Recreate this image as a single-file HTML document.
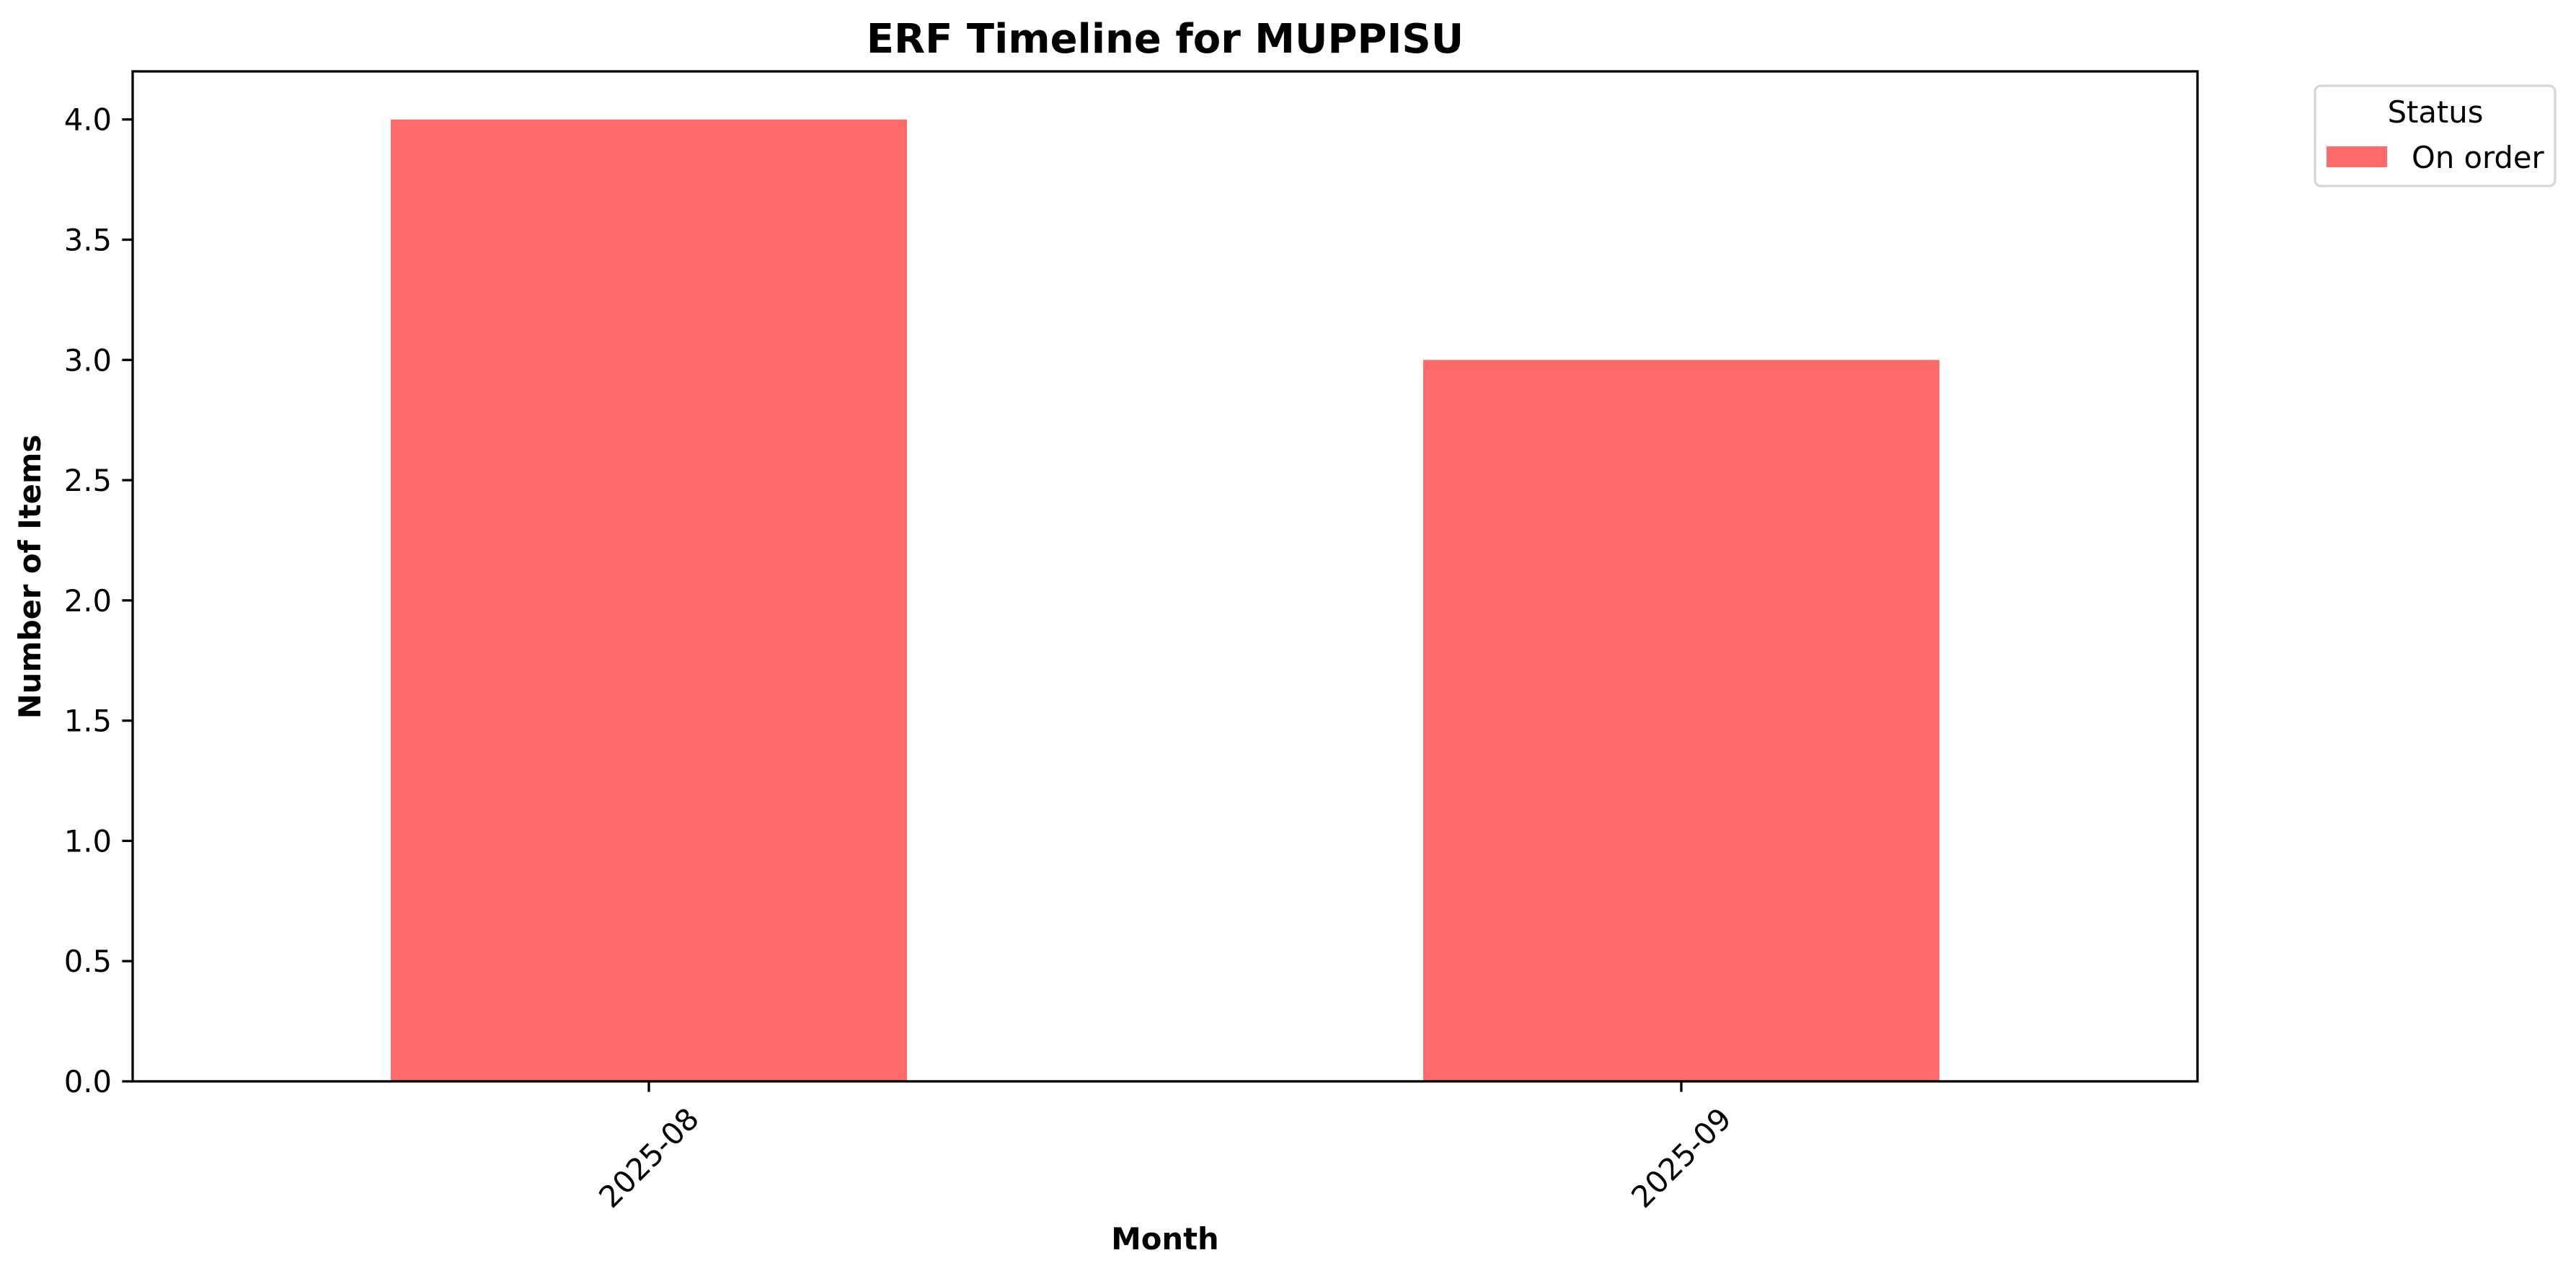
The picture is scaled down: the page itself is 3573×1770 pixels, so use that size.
<!DOCTYPE html>
<html><head><meta charset="utf-8"><style>
html,body{margin:0;padding:0;background:#fff;}
svg{display:block;font-family:"DejaVu Sans","Liberation Sans",sans-serif;}
</style></head><body>
<svg id="chart" width="3573" height="1770" viewBox="0 0 3573 1770" xmlns="http://www.w3.org/2000/svg">
<rect width="3573" height="1770" fill="#fff"/>
<text x="1616" y="73" text-anchor="middle" font-size="56" font-weight="bold">ERF Timeline for MUPPISU</text>
<g id="bars"></g>
<g id="yticks"></g>
<g id="xticks"></g>
<rect x="184" y="99" width="2864" height="1401" fill="none" stroke="#000" stroke-width="3.3"/>
<text transform="translate(56,800) rotate(-90)" text-anchor="middle" font-size="41.7" font-weight="bold">Number of Items</text>
<text x="1616" y="1733" text-anchor="middle" font-size="41.7" font-weight="bold">Month</text>
<g>
<rect x="3211" y="119" width="333" height="139" rx="8" fill="#fff" stroke="#d6d6d6" stroke-width="3.3"/>
<text x="3378" y="170" text-anchor="middle" font-size="41.7">Status</text>
<rect x="3227" y="203" width="84" height="29" fill="#ff6b6b"/>
<text x="3345" y="233" font-size="41.7">On order</text>
</g>
</svg>
<script>
const categories = ["2025-08", "2025-09"];
const onOrder = [4, 3];
const yTicks = [0, 0.5, 1.0, 1.5, 2.0, 2.5, 3.0, 3.5, 4.0];
const yTickLabels = ["0.0", "0.5", "1.0", "1.5", "2.0", "2.5", "3.0", "3.5", "4.0"];

const NS = "http://www.w3.org/2000/svg";
const L = 184, R = 3048, T = 99, B = 1500, YMAX = 4.2;
const xScale = i => L + (i + 0.5) * (R - L) / categories.length;
const yScale = v => B - v / YMAX * (B - T);
const bandW = (R - L) / categories.length;

const bars = document.getElementById('bars');
onOrder.forEach((v, i) => {
  const r = document.createElementNS(NS, 'rect');
  const cx = xScale(i);
  r.setAttribute('x', cx - bandW * 0.25);
  r.setAttribute('width', bandW * 0.5);
  r.setAttribute('y', yScale(v));
  r.setAttribute('height', yScale(0) - yScale(v));
  r.setAttribute('fill', '#ff6b6b');
  
  
  bars.appendChild(r);
});

const yg = document.getElementById('yticks');
yTicks.forEach((v, i) => {
  const y = yScale(v);
  const ln = document.createElementNS(NS, 'line');
  ln.setAttribute('x1', L - 14.6); ln.setAttribute('x2', L);
  ln.setAttribute('y1', y); ln.setAttribute('y2', y);
  ln.setAttribute('stroke', '#000'); ln.setAttribute('stroke-width', '3.3');
  
  
  yg.appendChild(ln);
  const t = document.createElementNS(NS, 'text');
  t.setAttribute('x', L - 29); t.setAttribute('y', y + 15);
  t.setAttribute('text-anchor', 'end'); t.setAttribute('font-size', '41.7');
  t.textContent = yTickLabels[i];
  
  
  yg.appendChild(t);
});

const xg = document.getElementById('xticks');
categories.forEach((c, i) => {
  const x = xScale(i);
  const ln = document.createElementNS(NS, 'line');
  ln.setAttribute('x1', x); ln.setAttribute('x2', x);
  ln.setAttribute('y1', B); ln.setAttribute('y2', B + 14.6);
  ln.setAttribute('stroke', '#000'); ln.setAttribute('stroke-width', '3.3');
  
  
  xg.appendChild(ln);
  const t = document.createElementNS(NS, 'text');
  t.setAttribute('transform', 'translate(' + x + ',1606) rotate(-45)');
  t.setAttribute('text-anchor', 'middle'); t.setAttribute('dominant-baseline', 'central');
  t.setAttribute('font-size', '41.7');
  t.textContent = c;
  
  
  xg.appendChild(t);
});
</script>
</body></html>
